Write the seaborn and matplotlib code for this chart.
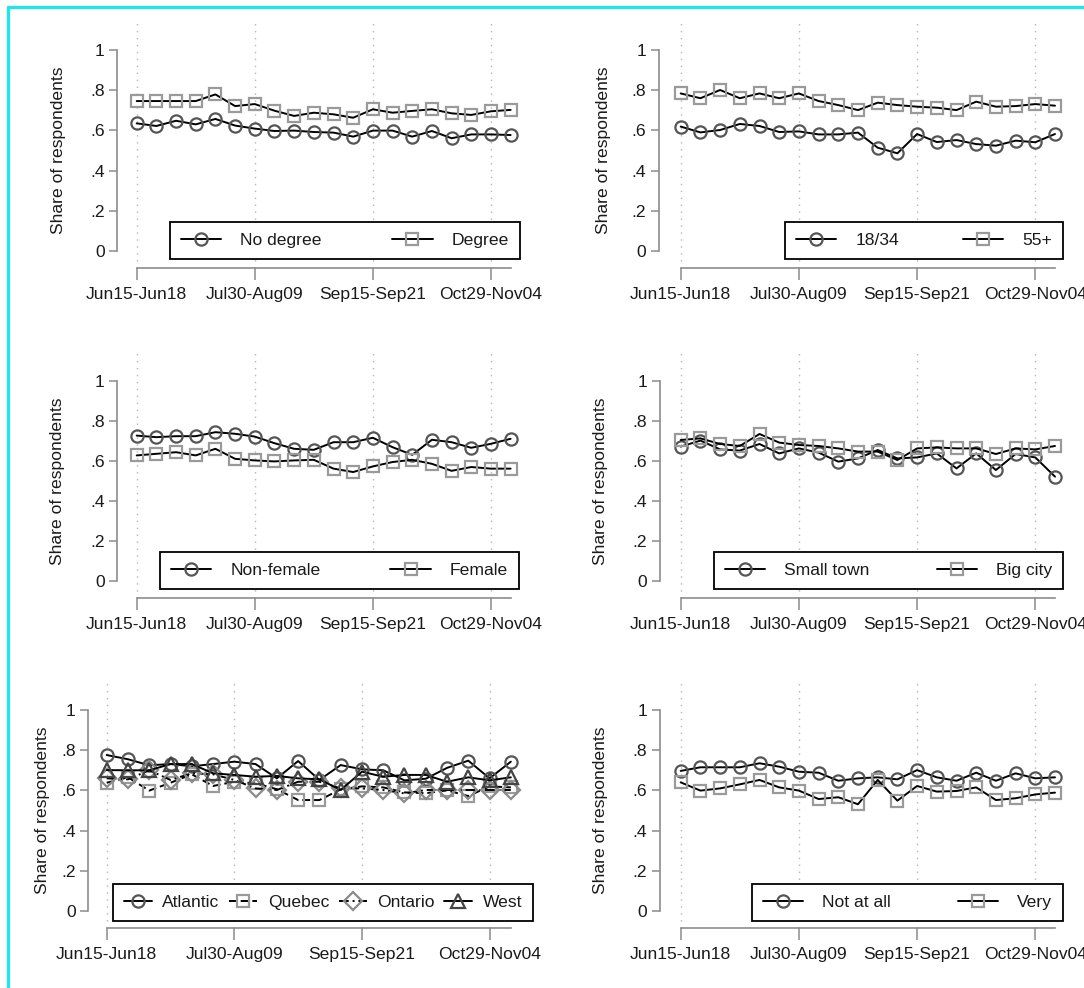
import matplotlib
matplotlib.use("Agg")
import matplotlib.pyplot as plt
from matplotlib.lines import Line2D
import seaborn as sns

# survey weeks (20 waves), only every sixth is labelled on the axis
weeks = list(range(20))
tick_pos = [0, 6, 12, 18]
tick_labels = ["Jun15-Jun18", "Jul30-Aug09", "Sep15-Sep21", "Oct29-Nov04"]

no_degree = [0.635, 0.622, 0.648, 0.630, 0.657, 0.624, 0.609, 0.597, 0.599, 0.592,
             0.589, 0.569, 0.599, 0.599, 0.569, 0.597, 0.561, 0.580, 0.580, 0.577]
degree = [0.746, 0.746, 0.746, 0.746, 0.779, 0.721, 0.731, 0.698, 0.672, 0.688,
          0.680, 0.663, 0.705, 0.688, 0.697, 0.705, 0.685, 0.677, 0.695, 0.702]

age_18_34 = [0.619, 0.590, 0.602, 0.632, 0.622, 0.592, 0.595, 0.580, 0.580, 0.589,
             0.514, 0.486, 0.582, 0.542, 0.552, 0.532, 0.524, 0.549, 0.541, 0.582]
age_55 = [0.784, 0.760, 0.801, 0.760, 0.784, 0.760, 0.784, 0.746, 0.726, 0.701,
          0.738, 0.726, 0.718, 0.713, 0.701, 0.743, 0.718, 0.721, 0.731, 0.723]

non_female = [0.726, 0.718, 0.723, 0.723, 0.743, 0.735, 0.721, 0.688, 0.660, 0.655,
              0.693, 0.693, 0.715, 0.668, 0.630, 0.705, 0.693, 0.665, 0.685, 0.710]
female = [0.627, 0.635, 0.643, 0.627, 0.660, 0.610, 0.602, 0.597, 0.602, 0.605,
          0.561, 0.544, 0.572, 0.594, 0.605, 0.585, 0.550, 0.569, 0.561, 0.561]

small_town = [0.671, 0.701, 0.657, 0.651, 0.684, 0.637, 0.662, 0.641, 0.596, 0.612,
              0.654, 0.612, 0.617, 0.637, 0.562, 0.637, 0.554, 0.634, 0.617, 0.521]
big_city = [0.704, 0.712, 0.684, 0.674, 0.734, 0.691, 0.679, 0.674, 0.662, 0.646,
            0.646, 0.604, 0.662, 0.667, 0.662, 0.662, 0.634, 0.662, 0.657, 0.674]

atlantic = [0.776, 0.755, 0.725, 0.731, 0.720, 0.731, 0.743, 0.731, 0.660, 0.746,
            0.652, 0.726, 0.705, 0.700, 0.650, 0.658, 0.712, 0.748, 0.660, 0.743]
quebec = [0.638, 0.665, 0.599, 0.638, 0.680, 0.622, 0.643, 0.635, 0.606, 0.552,
          0.552, 0.605, 0.620, 0.615, 0.590, 0.586, 0.600, 0.572, 0.620, 0.615]
ontario = [0.660, 0.655, 0.700, 0.652, 0.685, 0.680, 0.652, 0.610, 0.602, 0.643,
           0.643, 0.610, 0.610, 0.602, 0.585, 0.602, 0.602, 0.602, 0.602, 0.602]
west = [0.701, 0.700, 0.700, 0.731, 0.731, 0.685, 0.677, 0.668, 0.672, 0.660,
        0.655, 0.602, 0.693, 0.668, 0.677, 0.677, 0.643, 0.665, 0.650, 0.665]

not_at_all = [0.697, 0.715, 0.715, 0.715, 0.735, 0.718, 0.693, 0.688, 0.648, 0.660,
              0.665, 0.655, 0.701, 0.665, 0.648, 0.688, 0.648, 0.685, 0.660, 0.665]
very = [0.640, 0.599, 0.610, 0.630, 0.652, 0.615, 0.599, 0.557, 0.566, 0.531,
        0.652, 0.549, 0.622, 0.594, 0.597, 0.615, 0.552, 0.561, 0.580, 0.589]

# marker styles: (marker, edge colour, linestyle)
CIRCLE = ("o", "#555555", "-")
SQUARE = ("s", "#9a9a9a", "-")

panels = [
    # geo: x of week 0, px per week, axes left/right, px of y=0 and y=1; box: legend l, r, t, b; ylab: label x
    dict(series=[no_degree, degree], labels=["No degree", "Degree"], styles=[CIRCLE, SQUARE],
         geo=(136.7, 19.68, 117, 530, 251, 50), box=(170, 520, 217, 259), ylab=66),
    dict(series=[age_18_34, age_55], labels=["18/34", "55+"], styles=[CIRCLE, SQUARE],
         geo=(680.7, 19.7, 658.5, 1070, 251, 50), box=(785, 1063, 217, 259), ylab=611),
    dict(series=[non_female, female], labels=["Non-female", "Female"], styles=[CIRCLE, SQUARE],
         geo=(136.7, 19.68, 117.3, 530, 581, 380.7), box=(160, 519, 547, 589), ylab=65),
    dict(series=[small_town, big_city], labels=["Small town", "Big city"], styles=[CIRCLE, SQUARE],
         geo=(680.7, 19.7, 660, 1070, 581, 380.7), box=(714, 1063, 547, 589), ylab=608),
    dict(series=[atlantic, quebec, ontario, west], labels=["Atlantic", "Quebec", "Ontario", "West"],
         styles=[("o", "#555555", "-"), ("s", "#9a9a9a", (0, (4, 2))),
                 ("D", "#8a8a8a", (0, (5, 2, 1, 2))), ("^", "#444444", "-")],
         geo=(106.7, 21.27, 88.3, 535, 911, 710), box=(113, 533, 879, 921), ylab=50),
    dict(series=[not_at_all, very], labels=["Not at all", "Very"], styles=[CIRCLE, SQUARE],
         geo=(680.7, 19.7, 660, 1070, 911, 710), box=(752, 1063, 879, 921), ylab=608),
]

W, H = 1084, 988
sns.set_theme(style="white")
plt.rcParams["font.family"] = ["Liberation Sans", "DejaVu Sans"]
FS = 12.6
AXC = "#8c8c8c"

fig = plt.figure(figsize=(W / 100, H / 100), dpi=100)
fig.patch.set_facecolor("white")

lo, hi = -0.085, 1.15
for p in panels:
    x0, dx, left, right, p0, p1 = p["geo"]
    sc = p0 - p1
    top_px = p0 - hi * sc
    bot_px = p0 - lo * sc
    ax = fig.add_axes([left / W, 1 - bot_px / H, (right - left) / W, (bot_px - top_px) / H])
    ax.set_xlim((left - x0) / dx, (right - x0) / dx)
    ax.set_ylim(lo, hi)

    for vals, lab, (mk, ec, ls) in zip(p["series"], p["labels"], p["styles"]):
        ms = 9.5 if mk in ("D", "^") else 8.8
        sns.lineplot(x=weeks, y=vals, ax=ax, color="black", linewidth=1.4, linestyle=ls,
                     marker=mk, markersize=ms, markerfacecolor="none",
                     markeredgecolor=ec, markeredgewidth=1.6, label=lab)

    # axes styling
    for s in ("top", "right"):
        ax.spines[s].set_visible(False)
    ax.spines["left"].set_bounds(0, 1)
    ax.spines["bottom"].set_bounds(0, 19)
    for s in ("left", "bottom"):
        ax.spines[s].set_color(AXC)
        ax.spines[s].set_linewidth(1.2)

    ax.set_yticks([0, 0.2, 0.4, 0.6, 0.8, 1])
    ax.set_yticklabels(["0", ".2", ".4", ".6", ".8", "1"])
    ax.set_yticks([0.2, 0.4, 0.6, 0.8], minor=True)
    ax.set_xticks(tick_pos)
    ax.set_xticklabels(tick_labels)
    ax.tick_params(axis="y", which="major", length=6, width=1.1, color=AXC, pad=3,
                   labelsize=FS, labelcolor="#1a1a1a", left=True)
    ax.tick_params(axis="x", which="major", length=8.5, width=1.1, color=AXC, pad=5,
                   labelsize=FS, labelcolor="#1a1a1a", bottom=True)
    ax.tick_params(axis="y", which="minor", length=0)
    ax.grid(False)
    ax.grid(axis="y", which="minor", linestyle=(0, (1, 4)), color="#b5b5b5", linewidth=1.0)
    ax.grid(axis="x", which="major", linestyle=(0, (1, 4)), color="#b5b5b5", linewidth=1.0)

    ax.set_xlabel("")
    ax.set_ylabel("Share of respondents", fontsize=FS, color="#1a1a1a")
    ax.yaxis.set_label_coords((p["ylab"] - left) / (right - left), (0.5 - lo) / (hi - lo))

    # legend box placed from pixel geometry
    bl, br, bt, bb = p["box"]
    bx = (bl - left) / (right - left)
    bw = (br - bl) / (right - left)
    by = (bot_px - bb) / (bot_px - top_px)
    bh = (bb - bt) / (bot_px - top_px)
    handles, labels = ax.get_legend_handles_labels()
    four = len(labels) == 4
    leg = ax.legend(handles, labels, loc="lower left", bbox_to_anchor=(bx, by, bw, bh),
                    mode="expand", ncol=len(labels), borderaxespad=0, frameon=True,
                    fancybox=False, edgecolor="black", framealpha=1, fontsize=FS,
                    handlelength=1.6 if four else 2.3,
                    handletextpad=0.6 if four else 1.1,
                    borderpad=0.62, columnspacing=0.3 if four else 0.5)
    leg.get_frame().set_linewidth(1.3)
    for t in leg.get_texts():
        t.set_color("#1a1a1a")

# cyan frame on the top and left edge of the screenshot
fig.add_artist(Line2D([8 / W, 1], [1 - 7.5 / H, 1 - 7.5 / H], transform=fig.transFigure,
                      color="#1ee6ef", linewidth=2.3))
fig.add_artist(Line2D([8 / W, 8 / W], [0, 1 - 7.5 / H], transform=fig.transFigure,
                      color="#1ee6ef", linewidth=2.3))

fig.savefig("out.png", dpi=100, facecolor="white")
